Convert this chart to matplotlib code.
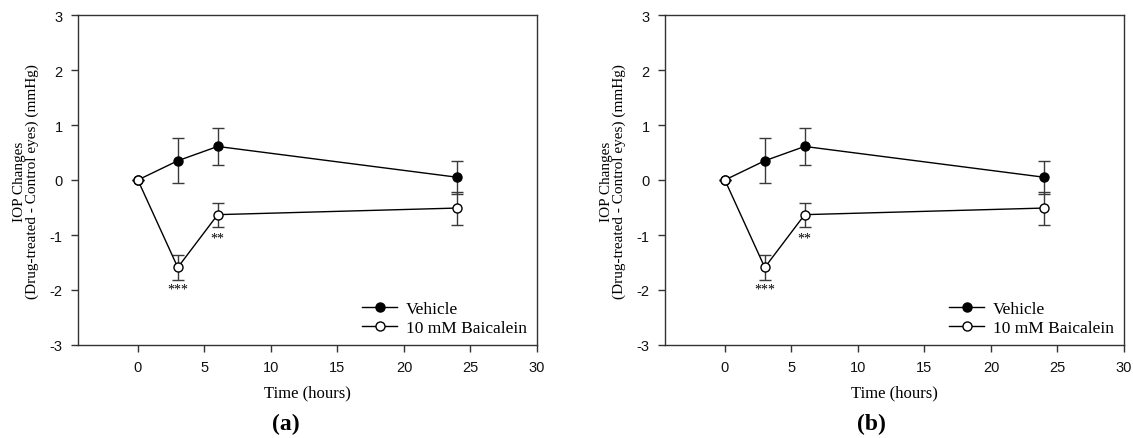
import matplotlib
matplotlib.use("Agg")
import matplotlib.pyplot as plt

plt.rcParams["axes.unicode_minus"] = False

time_h = [0, 3, 6, 24]
vehicle_mean = [0.0, 0.35, 0.61, 0.05]
vehicle_sem = [0.0, 0.41, 0.33, 0.30]
baicalein_mean = [0.0, -1.59, -0.63, -0.51]
baicalein_sem = [0.0, 0.23, 0.22, 0.30]
sig_x = [3, 6]
sig_y = [-1.98, -1.05]
sig_text = ["***", "**"]
x_ticks = [0, 5, 10, 15, 20, 25, 30]
y_ticks = [-3, -2, -1, 0, 1, 2, 3]
panel_labels = ["(a)", "(b)"]
legend_labels = ["Vehicle", "10 mM Baicalein"]

SERIF = "Liberation Serif"
SANS = "Liberation Sans"

fig = plt.figure(figsize=(11.33, 4.39), dpi=100)
W, H = 1133, 439
lefts = [78, 665]
width_px = 459
top_px, bottom_px = 16, 346
ylabel_x = [26, 613]
panel_label_x = [286, 871]


def draw(ax):
    ax.errorbar(time_h, vehicle_mean, yerr=vehicle_sem, fmt="none",
                ecolor="#3a3a3a", elinewidth=1.0, capsize=4.5, capthick=1.0, zorder=2)
    ax.errorbar(time_h, baicalein_mean, yerr=baicalein_sem, fmt="none",
                ecolor="#3a3a3a", elinewidth=1.0, capsize=4.5, capthick=1.0, zorder=2)
    ax.plot(time_h, vehicle_mean, "-o", color="black", lw=1.0, mfc="black",
            mec="black", ms=6.5, label=legend_labels[0], zorder=3)
    ax.plot(time_h, baicalein_mean, "-o", color="black", lw=1.0, mfc="white",
            mec="black", mew=1.0, ms=6.5, label=legend_labels[1], zorder=4)
    for x, y, t in zip(sig_x, sig_y, sig_text):
        ax.text(x, y, t, ha="center", va="center", fontsize=10, family=SERIF)
    ax.set_xlim(-4.5, 30)
    ax.set_ylim(-3, 3)
    ax.set_xticks(x_ticks)
    ax.set_yticks(y_ticks)
    ax.tick_params(direction="out", length=5, width=1, labelsize=10.5, pad=6,
                   color="#333333", labelcolor="#111111")
    for lab in ax.get_xticklabels() + ax.get_yticklabels():
        lab.set_family(SANS)
    for s in ax.spines.values():
        s.set_linewidth(1.0)
        s.set_color("#333333")
    ax.set_xlabel("Time (hours)", family=SERIF, fontsize=12, labelpad=7)
    ax.legend(loc="lower right", frameon=False, prop={"family": SERIF, "size": 12.5},
              handlelength=2.0, handletextpad=0.5, labelspacing=0.15,
              borderaxespad=0.2, bbox_to_anchor=(1.0, -0.005))


for i in range(2):
    ax = fig.add_axes([lefts[i] / W, 1 - bottom_px / H, width_px / W, (bottom_px - top_px) / H])
    draw(ax)
    fig.text(ylabel_x[i] / W, 1 - 182 / H,
             "IOP Changes\n(Drug-treated - Control eyes) (mmHg)",
             rotation=90, ha="center", va="center", family=SERIF, fontsize=11,
             linespacing=1.0)
    fig.text(panel_label_x[i] / W, 1 - 424 / H, panel_labels[i], ha="center", va="center",
             family=SERIF, fontsize=17, fontweight="bold")

fig.savefig("out.png", dpi=100)
